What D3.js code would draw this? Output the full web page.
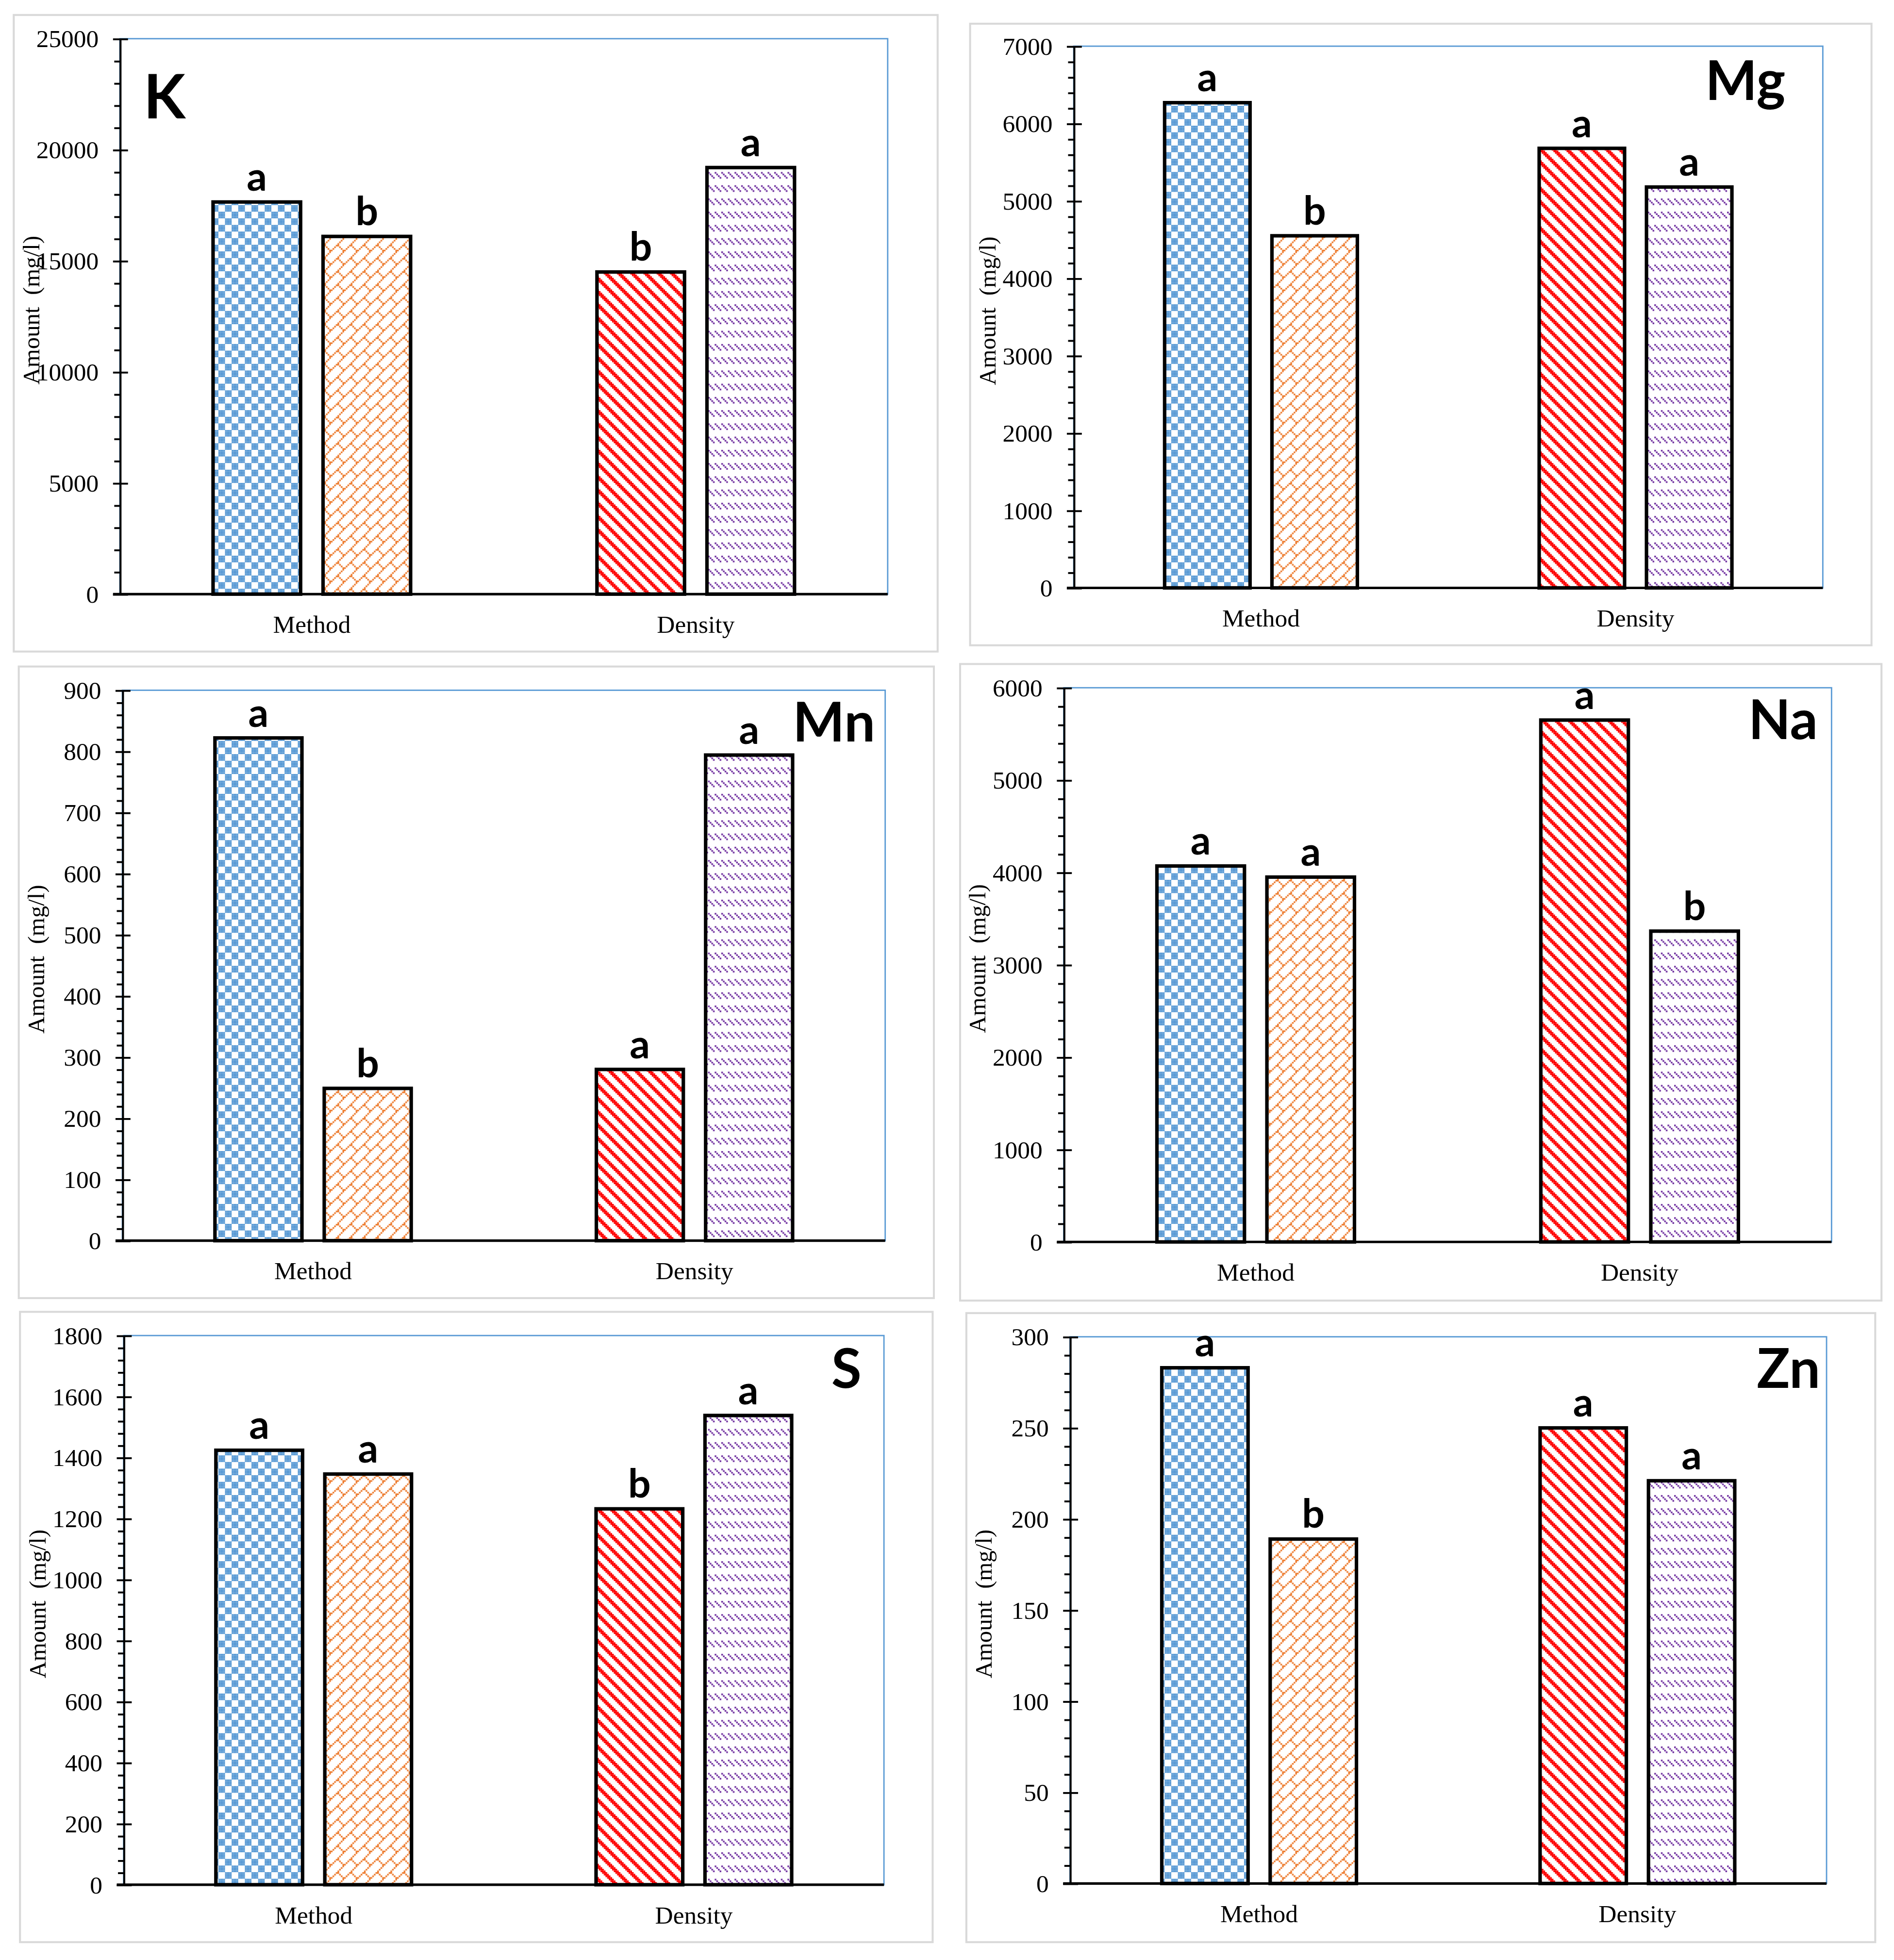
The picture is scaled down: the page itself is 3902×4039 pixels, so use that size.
<!DOCTYPE html>
<html>
<head>
<meta charset="utf-8">
<script src="https://cdn.jsdelivr.net/npm/d3@7"></script>
<style>
  body { margin: 0; background: #fff; }
</style>
</head>
<body>
<div id="chart"></div>
<script>
// one panel per element
var elements = ["K", "Mg", "Mn", "Na", "S", "Zn"];
var categories = ["Method", "Density"];

// bar heights, order: Method-1, Method-2, Density-1, Density-2
var kValues  = [17650, 16100, 14500, 19200];
var mgValues = [6270, 4550, 5680, 5180];
var mnValues = [822, 249, 280, 794];
var naValues = [4070, 3950, 5650, 3365];
var sValues  = [1424, 1346, 1232, 1538];
var znValues = [283, 189, 250, 221];

// significance letters above each bar
var kLetters  = ["a", "b", "b", "a"];
var mgLetters = ["a", "b", "a", "a"];
var mnLetters = ["a", "b", "a", "a"];
var naLetters = ["a", "a", "a", "b"];
var sLetters  = ["a", "a", "b", "a"];
var znLetters = ["a", "b", "a", "a"];

// y axis maximum and major tick step per panel
var yMaxes = [25000, 7000, 900, 6000, 1800, 300];
var yMajorSteps = [5000, 1000, 100, 1000, 200, 50];

var allValues = [kValues, mgValues, mnValues, naValues, sValues, znValues];
var allLetters = [kLetters, mgLetters, mnLetters, naLetters, sLetters, znLetters];

// panel placement (view units): outer frame, plot area, title offset
var layout = [
  {frame: [11, 12, 751, 522],   plot: [96, 31, 711, 476],    tx: 19,  ty: 64, anchor: "start", fs: 49},
  {frame: [777, 19, 1499, 517], plot: [860, 37, 1460, 471],  tx: -30, ty: 43, anchor: "end",   fs: 44},
  {frame: [15, 534, 748, 1040], plot: [98, 553, 709, 994],   tx: -8,  ty: 41, anchor: "end",   fs: 44},
  {frame: [769, 532, 1507, 1042], plot: [852, 551, 1467, 995], tx: -11, ty: 41, anchor: "end",  fs: 44},
  {frame: [16, 1051, 747, 1556], plot: [99, 1070, 708, 1510], tx: -18, ty: 42, anchor: "end",   fs: 44},
  {frame: [774, 1052, 1502, 1556], plot: [857, 1071, 1463, 1509], tx: -5, ty: 41, anchor: "end", fs: 44}
];

var serif = "'Liberation Serif', 'Times New Roman', serif";
var sans = "Lato, 'Open Sans', sans-serif";

var W = 1517, H = 1570.3;
var svg = d3.select("#chart")
  .append("svg")
    .attr("width", 3902)
    .attr("height", 4039)
    .attr("viewBox", "0 0 " + W + " " + H);

svg.append("rect").attr("width", W).attr("height", H).attr("fill", "#fff");

// Excel style 8x8 bitmap fills
var T = 10.6, px = T / 8;
var fills = [
  {color: "#5B9BD5", on: function(x, y) { return ((x >> 2) + (y >> 2)) % 2 === 1; }},
  {color: "#ED7D31", on: function(x, y) { return (x + y) % 8 === 7 || (y >= 4 && x === y); }},
  {color: "#FF0000", on: function(x, y) { return ((x - y) % 8 + 8) % 8 < 3; }},
  {color: "#7030A0", on: function(x, y) { return y < 4 && ((x - y) % 4 + 4) % 4 === 0; }}
];

var defs = svg.append("defs");
fills.forEach(function(f, i) {
  var p = defs.append("pattern")
    .attr("id", "fill" + i)
    .attr("patternUnits", "userSpaceOnUse")
    .attr("width", T)
    .attr("height", T);
  p.append("rect").attr("width", T).attr("height", T).attr("fill", "#fff");
  var cells = [];
  for (var y = 0; y < 8; y++)
    for (var x = 0; x < 8; x++)
      if (f.on(x, y)) cells.push([x, y]);
  p.selectAll("rect.px")
    .data(cells)
    .enter().append("rect")
      .attr("class", "px")
      .attr("x", function(d) { return d[0] * px; })
      .attr("y", function(d) { return d[1] * px; })
      .attr("width", px + 0.03)
      .attr("height", px + 0.03)
      .attr("fill", f.color);
});

function drawPanel(idx) {
  var L = layout[idx];
  var values = allValues[idx], letters = allLetters[idx];
  var left = L.plot[0], top = L.plot[1], right = L.plot[2], bottom = L.plot[3];
  var g = svg.append("g");

  // outer chart frame
  g.append("rect")
    .attr("x", L.frame[0]).attr("y", L.frame[1])
    .attr("width", L.frame[2] - L.frame[0])
    .attr("height", L.frame[3] - L.frame[1])
    .attr("fill", "#fff")
    .attr("stroke", "#d9d9d9")
    .attr("stroke-width", 1.6);

  // plot area border
  g.append("rect")
    .attr("x", left).attr("y", top)
    .attr("width", right - left).attr("height", bottom - top)
    .attr("fill", "none")
    .attr("stroke", "#5B9BD5")
    .attr("stroke-width", 1.1);

  var x = d3.scaleBand()
    .domain(categories)
    .range([left, right]);

  var xSub = d3.scaleBand()
    .domain([0, 1])
    .range([0, x.bandwidth()])
    .paddingInner(0.204)
    .paddingOuter(0.847);

  var y = d3.scaleLinear()
    .domain([0, yMaxes[idx]])
    .range([bottom, top]);

  var majors = d3.range(0, yMaxes[idx] + 1e-9, yMajorSteps[idx]);
  var minors = d3.range(0, yMaxes[idx] + 1e-9, yMajorSteps[idx] / 5)
    .filter(function(v) { return majors.indexOf(v) < 0; });

  // minor ticks, outside only
  g.append("g")
    .attr("transform", "translate(" + left + ",0)")
    .call(d3.axisLeft(y).tickValues(minors).tickSize(4.5).tickSizeOuter(0).tickFormat(""))
    .call(function(a) {
      a.select(".domain").remove();
      a.selectAll("line").attr("stroke", "#000").attr("stroke-width", 1.5);
    });

  // major ticks with labels
  g.append("g")
    .attr("transform", "translate(" + left + ",0)")
    .call(d3.axisLeft(y).tickValues(majors).tickSize(5.5).tickSizeOuter(0)
      .tickPadding(11.5).tickFormat(d3.format("d")))
    .call(function(a) {
      a.select(".domain").attr("stroke", "#000").attr("stroke-width", 1.6);
      a.selectAll("line").attr("stroke", "#000").attr("stroke-width", 1.5);
      a.selectAll(".tick line").clone().attr("x2", 6.5);
      a.selectAll("text")
        .attr("font-family", serif)
        .attr("font-size", 20)
        .attr("fill", "#000");
    });

  // bars
  var bars = [];
  categories.forEach(function(c, ci) {
    [0, 1].forEach(function(si) {
      var k = ci * 2 + si;
      bars.push({cat: c, sub: si, value: values[k], letter: letters[k], fill: k});
    });
  });

  g.selectAll("rect.bar")
    .data(bars)
    .enter().append("rect")
      .attr("class", "bar")
      .attr("x", function(d) { return x(d.cat) + xSub(d.sub); })
      .attr("y", function(d) { return y(d.value); })
      .attr("width", xSub.bandwidth())
      .attr("height", function(d) { return y(0) - y(d.value); })
      .attr("fill", function(d) { return "url(#fill" + d.fill + ")"; })
      .attr("stroke", "#000")
      .attr("stroke-width", 2.8);

  g.selectAll("text.letter")
    .data(bars)
    .enter().append("text")
      .attr("class", "letter")
      .attr("x", function(d) { return x(d.cat) + xSub(d.sub) + xSub.bandwidth() / 2; })
      .attr("y", function(d) { return y(d.value) - 9; })
      .attr("text-anchor", "middle")
      .attr("font-family", sans)
      .attr("font-weight", "bold")
      .attr("font-size", 32)
      .text(function(d) { return d.letter; });

  // x axis line
  g.append("line")
    .attr("x1", left - 5.5).attr("x2", right)
    .attr("y1", bottom).attr("y2", bottom)
    .attr("stroke", "#000")
    .attr("stroke-width", 2);

  g.selectAll("text.cat")
    .data(categories)
    .enter().append("text")
      .attr("class", "cat")
      .attr("x", function(d) { return x(d) + x.bandwidth() / 2; })
      .attr("y", bottom + 31)
      .attr("text-anchor", "middle")
      .attr("font-family", serif)
      .attr("font-size", 20)
      .text(function(d) { return d; });

  // y axis title
  g.append("text")
    .attr("transform", "translate(" + (L.frame[0] + 16) + "," + ((top + bottom) / 2 - 5) + ") rotate(-90)")
    .attr("text-anchor", "middle")
    .attr("dominant-baseline", "middle")
    .attr("font-family", serif)
    .attr("font-size", 19)
    .text("Amount\u00a0 (mg/l)");

  // element name
  g.append("text")
    .attr("x", (L.anchor === "start" ? left : right) + L.tx)
    .attr("y", top + L.ty)
    .attr("text-anchor", L.anchor)
    .attr("font-family", sans)
    .attr("font-weight", "bold")
    .attr("font-size", L.fs)
    .text(elements[idx]);
}

elements.forEach(function(e, i) { drawPanel(i); });
</script>
</body>
</html>
